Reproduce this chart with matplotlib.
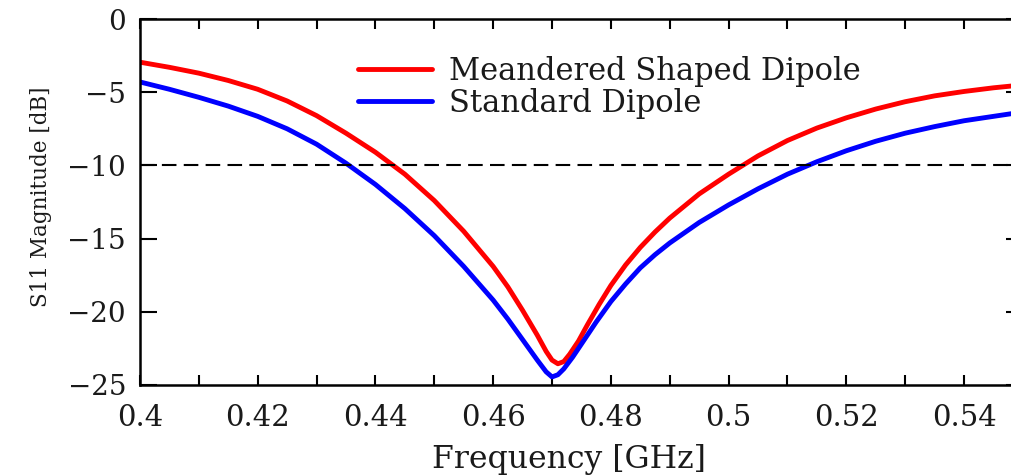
import matplotlib
matplotlib.use("Agg")
import matplotlib.pyplot as plt
from matplotlib.ticker import MultipleLocator

# S11 data (frequency in GHz, magnitude in dB)
freq_meander = [0.400, 0.405, 0.410, 0.415, 0.420, 0.425, 0.430, 0.435, 0.440, 0.445,
                0.450, 0.455, 0.460, 0.4625, 0.465, 0.4675, 0.469, 0.470, 0.471, 0.472,
                0.473, 0.4745, 0.476, 0.478, 0.480, 0.4825, 0.485, 0.4875, 0.490, 0.495,
                0.500, 0.505, 0.510, 0.515, 0.520, 0.525, 0.530, 0.535, 0.540, 0.545, 0.550]
s11_meander = [-2.95, -3.3, -3.7, -4.2, -4.8, -5.6, -6.6, -7.8, -9.1, -10.6,
               -12.4, -14.5, -16.9, -18.3, -19.9, -21.6, -22.7, -23.3, -23.55, -23.4,
               -22.9, -22.0, -20.9, -19.5, -18.2, -16.8, -15.6, -14.55, -13.6, -11.95,
               -10.6, -9.35, -8.3, -7.45, -6.75, -6.15, -5.65, -5.25, -4.95, -4.7, -4.5]

freq_standard = [0.400, 0.405, 0.410, 0.415, 0.420, 0.425, 0.430, 0.435, 0.440, 0.445,
                 0.450, 0.455, 0.460, 0.4625, 0.465, 0.4675, 0.469, 0.470, 0.471, 0.472,
                 0.4735, 0.475, 0.4775, 0.480, 0.4825, 0.485, 0.4875, 0.490, 0.495, 0.500,
                 0.505, 0.510, 0.515, 0.520, 0.525, 0.530, 0.535, 0.540, 0.545, 0.550]
s11_standard = [-4.3, -4.8, -5.35, -5.95, -6.65, -7.5, -8.55, -9.85, -11.3, -12.95,
                -14.8, -16.9, -19.2, -20.5, -21.9, -23.3, -24.1, -24.45, -24.3, -23.9,
                -23.1, -22.2, -20.7, -19.3, -18.1, -17.0, -16.1, -15.3, -13.9, -12.7,
                -11.6, -10.6, -9.75, -9.0, -8.35, -7.8, -7.35, -6.95, -6.65, -6.35]

threshold = -10
labels = ["Meandered Shaped Dipole", "Standard Dipole"]
xtick_vals = [0.4, 0.42, 0.44, 0.46, 0.48, 0.5, 0.52, 0.54]
xtick_text = ["0.4", "0.42", "0.44", "0.46", "0.48", "0.5", "0.52", "0.54"]
ytick_vals = [0, -5, -10, -15, -20, -25]
ytick_text = ["0", "\u22125", "\u221210", "\u221215", "\u221220", "\u221225"]

plt.rcParams['font.family'] = ['DejaVu Serif']
text_color = "#1a1a1a"

fig = plt.figure(figsize=(10.12, 4.75), dpi=100, facecolor='white')
# axes run slightly past the right edge, like the cropped original
ax = fig.add_axes([0.1383, 0.1895, 0.8725, 0.7705])

ax.plot(freq_meander, s11_meander, color="#ff0000", lw=3.5, label=labels[0],
        solid_capstyle='round', solid_joinstyle='round')
ax.plot(freq_standard, s11_standard, color="#0000ff", lw=3.5, label=labels[1],
        solid_capstyle='round', solid_joinstyle='round')
ax.axhline(threshold, color="black", lw=1.5, dashes=(7, 3.5))

ax.set_xlim(0.4, 0.55)
ax.set_ylim(-25, 0)
ax.set_xticks(xtick_vals)
ax.set_xticklabels(xtick_text)
ax.xaxis.set_minor_locator(MultipleLocator(0.01))
ax.set_yticks(ytick_vals)
ax.set_yticklabels(ytick_text)

ax.tick_params(axis='x', which='both', direction='in', top=True, length=7, width=1.5,
               pad=14, labelsize=21, labelcolor=text_color)
ax.tick_params(axis='y', which='both', direction='in', right=True, length=12, width=1.5,
               pad=10, labelsize=20, labelcolor=text_color)
for s in ax.spines.values():
    s.set_linewidth(1.8)

ax.set_xlabel("Frequency [GHz]", fontsize=22.7, color=text_color)
ax.xaxis.set_label_coords(0.486, -0.16)
ax.set_ylabel("S11 Magnitude [dB]", fontsize=15.5, color=text_color)
ax.yaxis.set_label_coords(-0.10, 0.515)

ax.legend(loc='upper left', bbox_to_anchor=(0.2469, 0.9), frameon=False, fontsize=22,
          handlelength=2.42, handletextpad=0.55, labelspacing=0.04, borderpad=0,
          borderaxespad=0, labelcolor=text_color)

fig.savefig("out.png", dpi=100, facecolor='white')
